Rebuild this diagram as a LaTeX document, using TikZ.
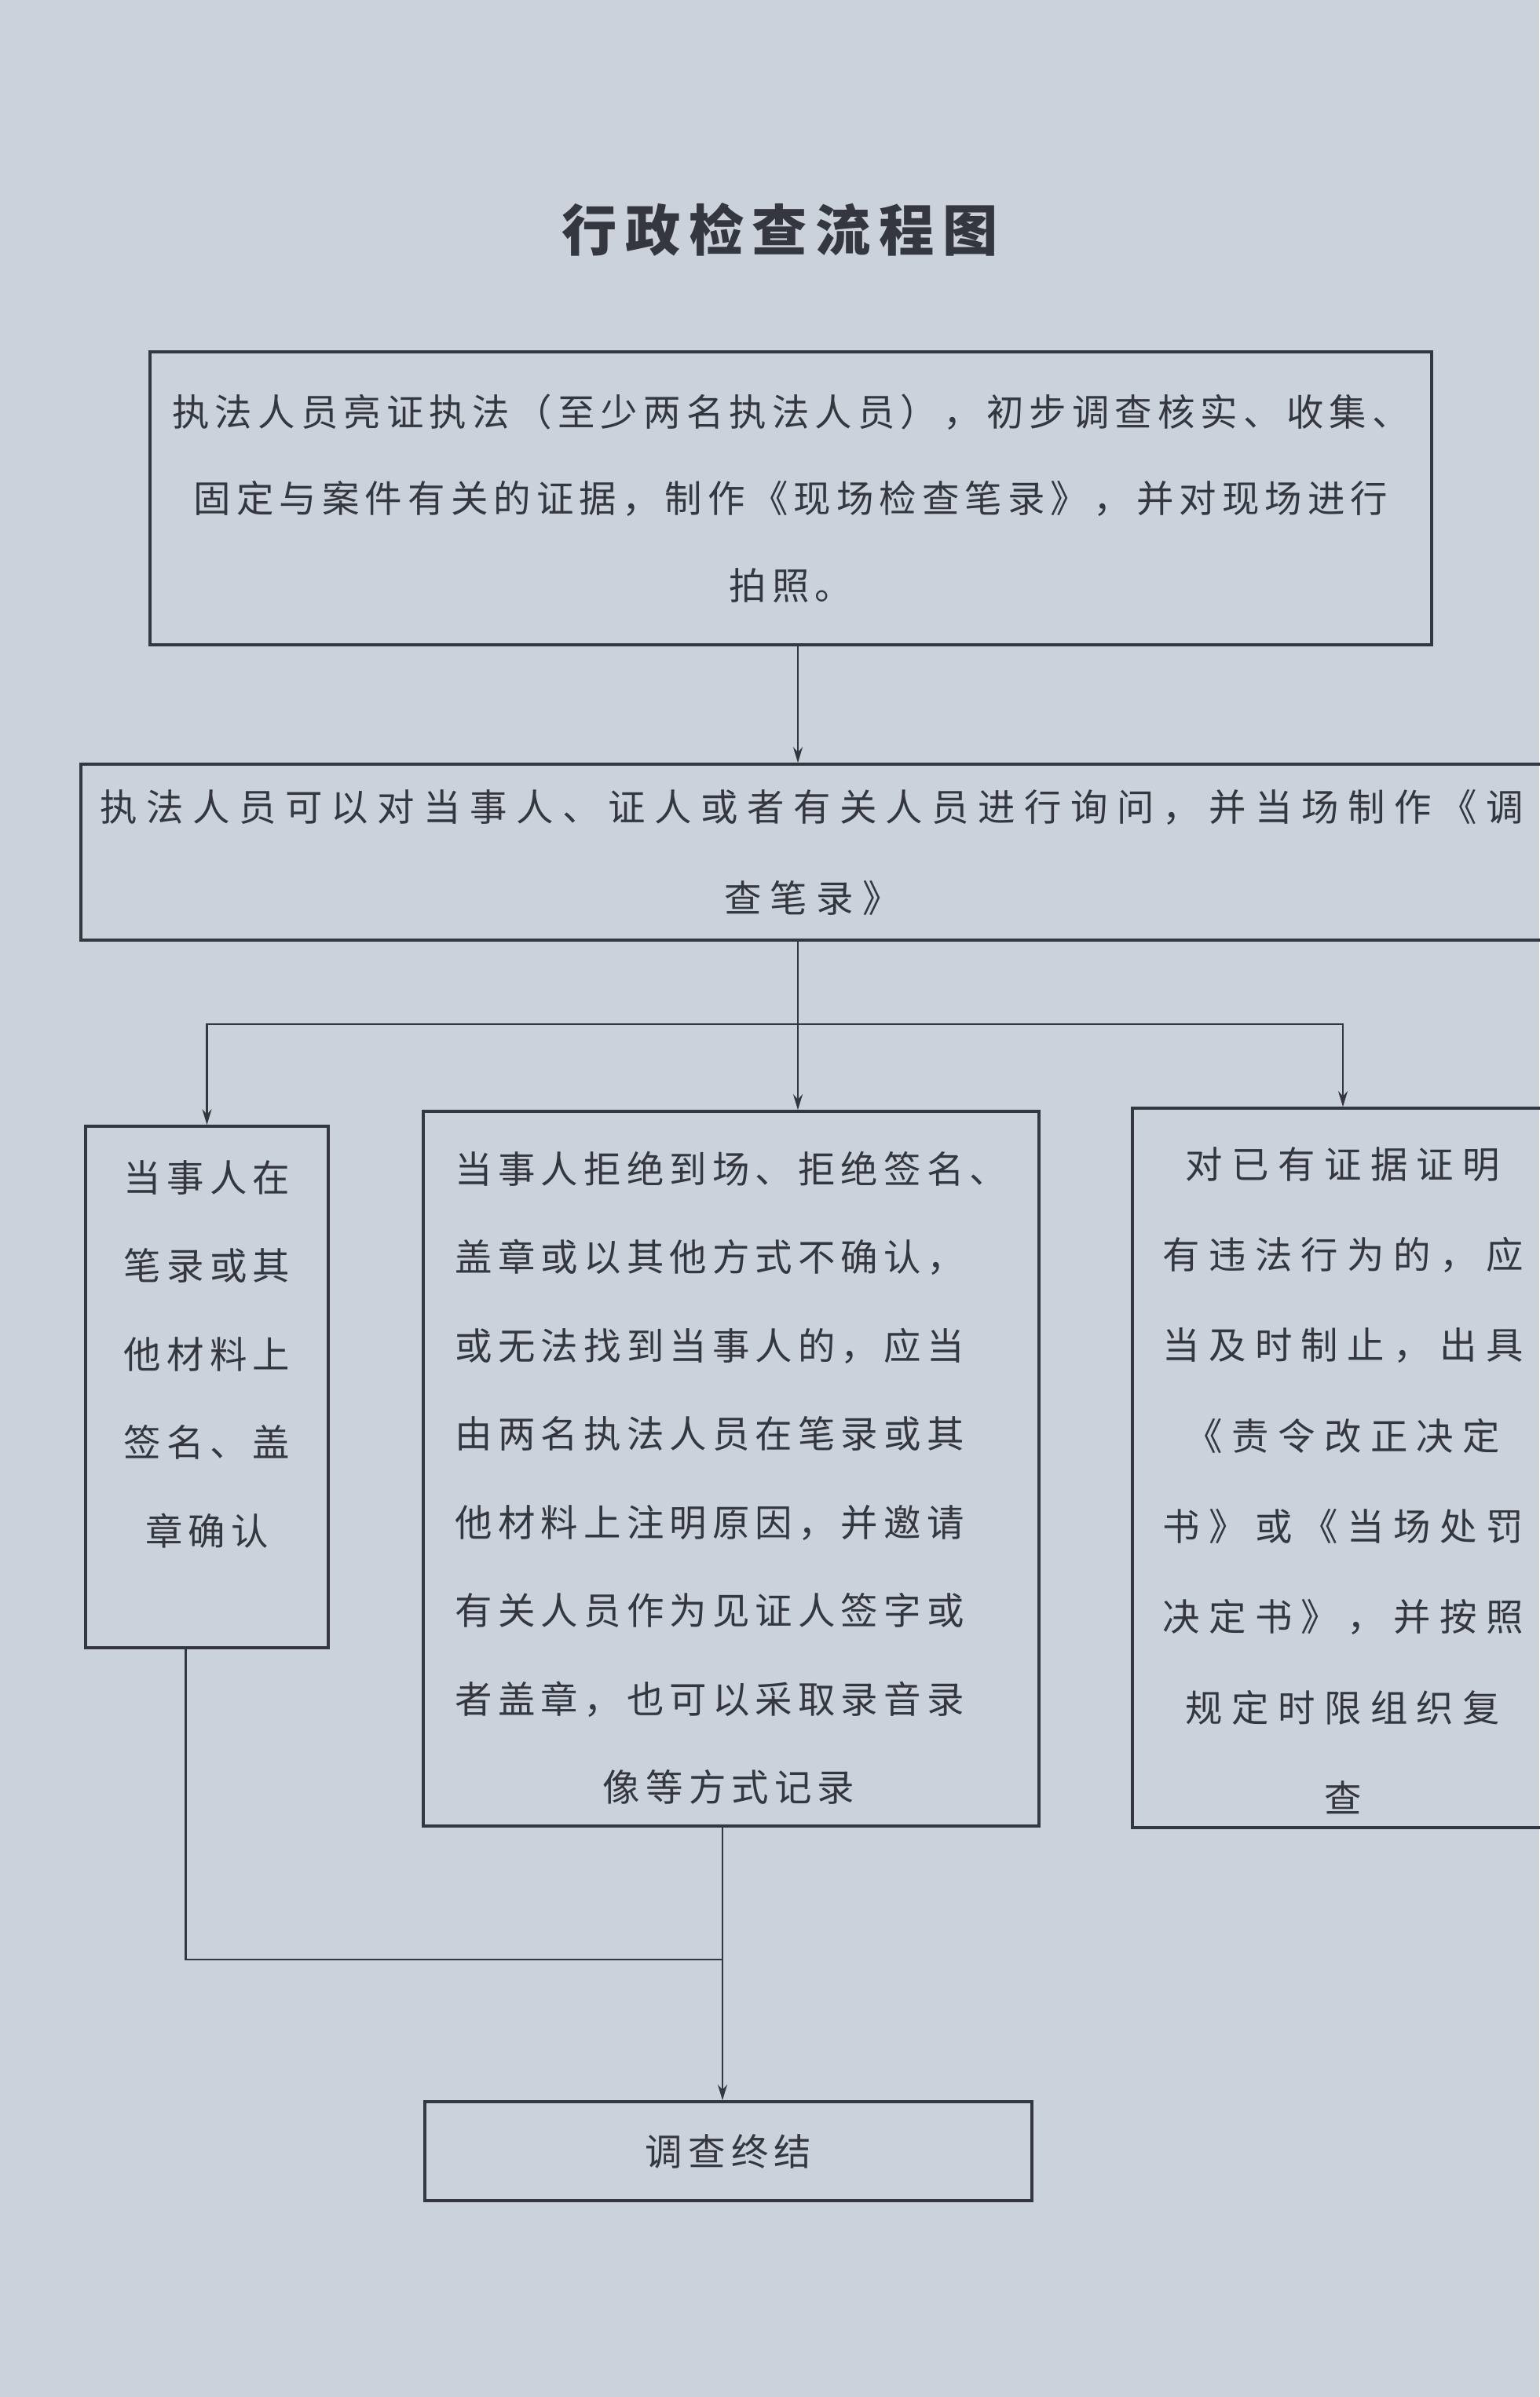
\documentclass[tikz,border=0pt]{standalone}
\usepackage{fontspec}
\usetikzlibrary{positioning,arrows.meta}
\newfontfamily\cjk[LetterSpace=15]{Noto Sans CJK SC}
\newfontfamily\cjkwide[LetterSpace=24]{Noto Sans CJK SC}
\definecolor{paper}{RGB}{204,210,220}
\definecolor{ink}{RGB}{52,55,64}
\begin{document}
\begin{tikzpicture}[>={Stealth[length=2mm,width=1.2mm]}, color=ink, line width=0.7pt,
    box/.style={draw, line width=1pt, inner sep=0pt},
    txt/.style={align=center, inner sep=0pt, font=\cjk\fontsize{13.5pt}{32pt}\selectfont}]
    \useasboundingbox (0,0) rectangle (19.6,-30.52);
    \fill[paper] (0,0) rectangle (19.6,-30.52);
    \node[font=\cjk\fontsize{20pt}{24pt}\selectfont\bfseries] (title) at (9.93,-2.92) {行政检查流程图};
    \node[box, txt, minimum width=16.32cm, minimum height=3.73cm, font=\cjk\fontsize{13.5pt}{31.5pt}\selectfont] (check) at (10.07,-6.345)
        {执法人员亮证执法（至少两名执法人员），初步调查核实、收集、\\固定与案件有关的证据，制作《现场检查笔录》，并对现场进行\\拍照。};
    \node[box, txt, minimum width=18.62cm, minimum height=2.24cm, font=\cjkwide\fontsize{13.5pt}{33pt}\selectfont] (notice) at (10.34,-10.85)
        {执法人员可以对当事人、证人或者有关人员进行询问，并当场制作《调\\查笔录》};
    % three cases
    \node[box, minimum width=3.09cm, minimum height=6.64cm] (party) at (2.635,-17.66) {};
    \node[txt, below=0.44cm of party.north] (partytxt) {当事人在\\笔录或其\\他材料上\\签名、盖\\章确认};
    \node[box, minimum width=7.84cm, minimum height=9.10cm] (refuse) at (9.31,-18.70) {};
    \node[txt, align=left, below=0.515cm of refuse.north] (refusetxt)
        {当事人拒绝到场、拒绝签名、\\盖章或以其他方式不确认，\\或无法找到当事人的，应当\\由两名执法人员在笔录或其\\他材料上注明原因，并邀请\\有关人员作为见证人签字或\\者盖章，也可以采取录音录\\\hspace*{1.88cm}像等方式记录};
    \node[box, minimum width=5.36cm, minimum height=9.16cm] (stop) at (17.10,-18.69) {};
    \node[txt, font=\cjkwide\fontsize{13.5pt}{32.8pt}\selectfont, below=0.5cm of stop.north] (stoptxt)
        {对已有证据证明\\有违法行为的，应\\当及时制止，出具\\《责令改正决定\\书》或《当场处罚\\决定书》，并按照\\规定时限组织复\\查};
    \node[box, txt, minimum width=7.73cm, minimum height=1.26cm] (close) at (9.275,-27.39) {调查终结};
    \coordinate (split) at (10.16,-13.04);
    \coordinate (merge) at (9.2,-24.95);
    \draw[->] (check.south -| split) -- (notice.north -| split);
    \draw (notice.south -| split) -- (split);
    \draw[->] (split) -| (party.north);
    \draw[->] (split) -- (refuse.north -| split);
    \draw[->] (split) -| (stop.north);
    \draw ([xshift=-0.27cm]party.south) |- (merge);
    \draw (refuse.south -| merge) -- (merge);
    \draw[->] (merge) -- (close.north -| merge);
\end{tikzpicture}
\end{document}
